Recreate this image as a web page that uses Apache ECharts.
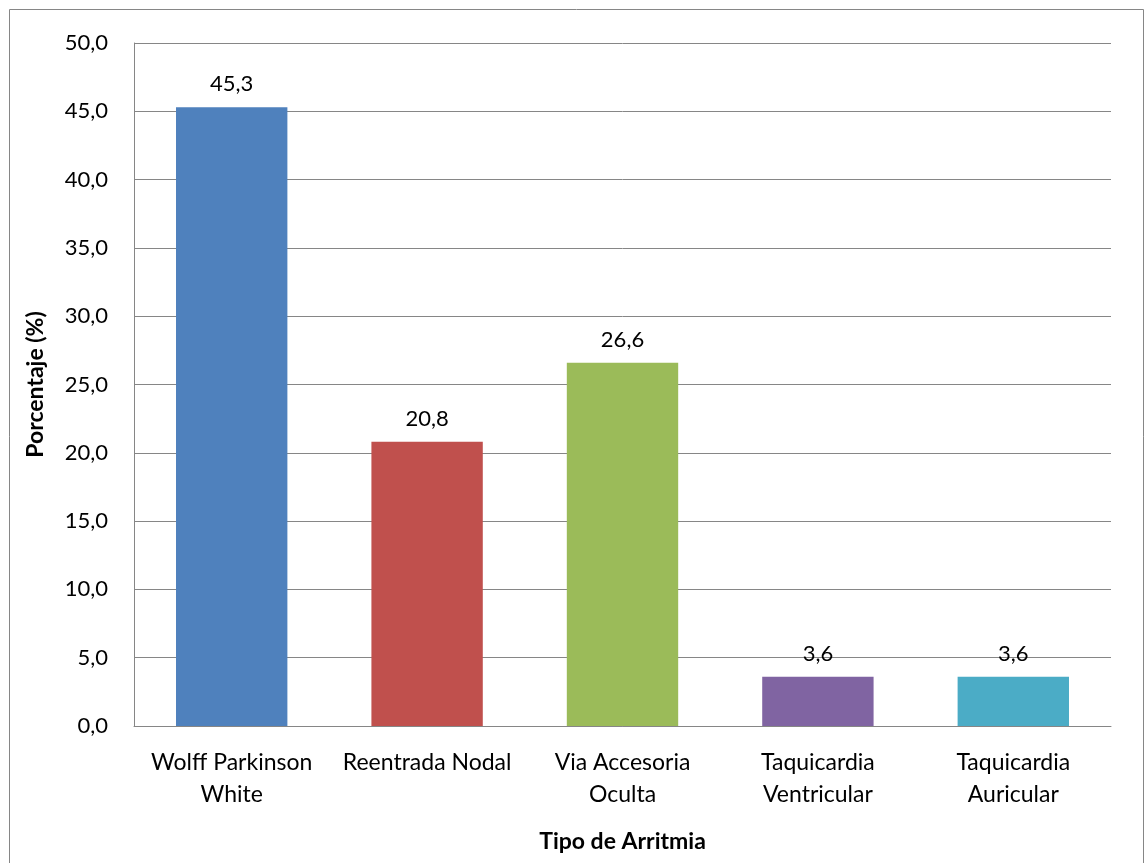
<!DOCTYPE html>
<html>
<head>
<meta charset="utf-8">
<script src="https://cdn.jsdelivr.net/npm/echarts@6/dist/echarts.min.js"></script>
<style>
  html, body { margin: 0; padding: 0; background: #ffffff; }
  #chart { width: 1145px; height: 863px; }
</style>
</head>
<body>
<div id="chart"></div>
<script>
// Arrhythmia types and their share (%)
const categories = [
  'Wolff Parkinson\nWhite',
  'Reentrada Nodal',
  'Via Accesoria\nOculta',
  'Taquicardia\nVentricular',
  'Taquicardia\nAuricular'
];
const percentages = [45.3, 20.8, 26.6, 3.6, 3.6];
const barColors = ['#4F81BD', '#C0504D', '#9BBB59', '#8064A2', '#4BACC6'];

const FONT = 'Lato, "Open Sans", sans-serif';
const fmt = v => Number(v).toFixed(1).replace('.', ',');

const chart = echarts.init(document.getElementById('chart'), null, { renderer: 'canvas' });

chart.setOption({
  backgroundColor: '#ffffff',
  animation: false,
  textStyle: { fontFamily: FONT },
  grid: { left: 134, right: 34, top: 43, bottom: 137, containLabel: false },
  graphic: [{
    type: 'rect',
    shape: { x: 9.5, y: 9.5, width: 1134, height: 870 },
    style: { fill: 'none', stroke: '#868686', lineWidth: 1 },
    silent: true
  }],
  xAxis: {
    type: 'category',
    data: categories,
    name: 'Tipo de Arritmia',
    nameLocation: 'middle',
    nameGap: 104,
    nameTextStyle: { fontFamily: FONT, fontSize: 23, fontWeight: 'bold', color: '#000' },
    axisLine: { show: true, lineStyle: { color: '#868686', width: 1 } },
    axisTick: { show: false },
    axisLabel: {
      interval: 0,
      margin: 21,
      fontFamily: FONT,
      fontSize: 23,
      lineHeight: 32,
      color: '#000'
    }
  },
  yAxis: {
    type: 'value',
    min: 0,
    max: 50,
    interval: 5,
    name: 'Porcentaje (%)',
    nameLocation: 'middle',
    nameGap: 87,
    nameTextStyle: { fontFamily: FONT, fontSize: 23, fontWeight: 'bold', color: '#000' },
    axisLine: { show: true, lineStyle: { color: '#868686', width: 1 } },
    axisTick: { show: false },
    splitLine: { show: true, lineStyle: { color: '#868686', width: 1 } },
    axisLabel: {
      margin: 26,
      fontFamily: FONT,
      fontSize: 22,
      color: '#000',
      formatter: v => fmt(v)
    }
  },
  series: [{
    type: 'bar',
    data: percentages.map((v, i) => ({ value: v, itemStyle: { color: barColors[i] } })),
    barCategoryGap: '43%',
    label: {
      show: true,
      position: 'top',
      distance: 12,
      fontFamily: FONT,
      fontSize: 22,
      color: '#000',
      formatter: p => fmt(p.value)
    }
  }]
});
</script>
</body>
</html>
